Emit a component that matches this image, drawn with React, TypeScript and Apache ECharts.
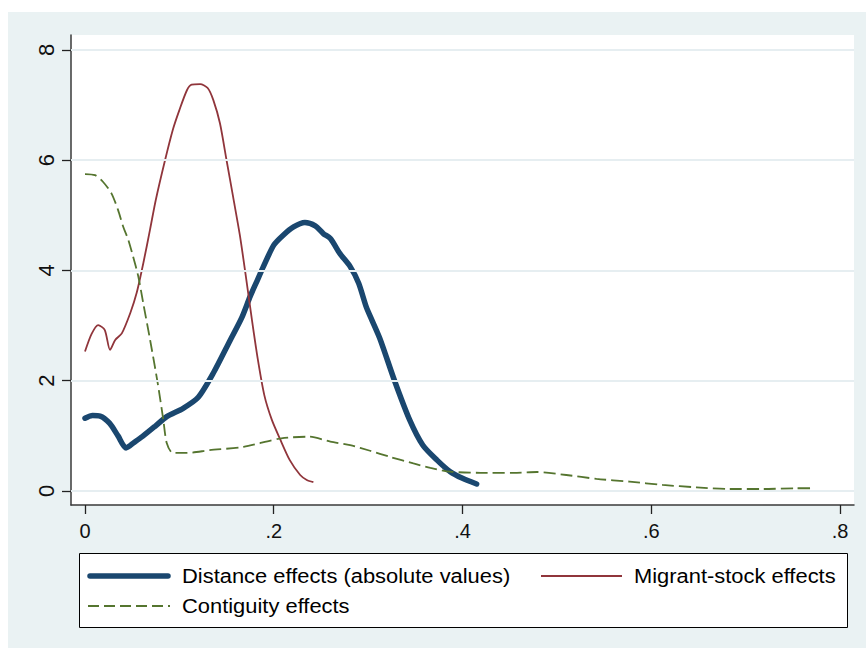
import React, { useEffect, useRef } from "react";
import * as echarts from "echarts";

// ---- data ----
const distanceX = [0, 0.008, 0.016, 0.026, 0.035, 0.0435, 0.052, 0.061, 0.074, 0.0866, 0.104, 0.12, 0.136, 0.154, 0.166, 0.175, 0.182, 0.189, 0.2, 0.21, 0.221, 0.233, 0.244, 0.2525, 0.26, 0.27, 0.281, 0.29, 0.298, 0.304, 0.313, 0.328, 0.344, 0.358, 0.373, 0.387, 0.4, 0.415];
const distanceY = [1.32, 1.37, 1.36, 1.23, 1.0, 0.78, 0.88, 0.99, 1.17, 1.35, 1.5, 1.7, 2.14, 2.74, 3.14, 3.53, 3.8, 4.07, 4.46, 4.64, 4.79, 4.87, 4.81, 4.67, 4.58, 4.31, 4.07, 3.77, 3.34, 3.1, 2.74, 2.0, 1.29, 0.83, 0.56, 0.35, 0.23, 0.127];

const migrantX = [0, 0.007, 0.014, 0.021, 0.0265, 0.032, 0.039, 0.048, 0.0547, 0.062, 0.069, 0.075, 0.0848, 0.093, 0.1, 0.108, 0.113, 0.122, 0.13, 0.136, 0.143, 0.15, 0.157, 0.164, 0.17, 0.1766, 0.183, 0.19, 0.198, 0.207, 0.217, 0.228, 0.235, 0.242];
const migrantY = [2.53, 2.85, 3.01, 2.92, 2.56, 2.74, 2.86, 3.23, 3.59, 4.15, 4.75, 5.28, 6.0, 6.55, 6.91, 7.27, 7.37, 7.38, 7.31, 7.09, 6.67, 6.0, 5.33, 4.65, 3.95, 3.14, 2.4, 1.74, 1.29, 0.93, 0.56, 0.29, 0.2, 0.16];

const contigX = [0, 0.0106, 0.019, 0.028, 0.035, 0.0406, 0.046, 0.051, 0.0565, 0.062, 0.069, 0.077, 0.083, 0.0866, 0.093, 0.108, 0.132, 0.168, 0.208, 0.238, 0.26, 0.281, 0.302, 0.323, 0.348, 0.366, 0.387, 0.419, 0.454, 0.479, 0.51, 0.542, 0.577, 0.612, 0.648, 0.683, 0.719, 0.754, 0.772];
const contigY = [5.75, 5.73, 5.61, 5.4, 5.1, 4.79, 4.55, 4.25, 3.89, 3.38, 2.74, 1.96, 1.29, 0.87, 0.69, 0.69, 0.74, 0.8, 0.955, 0.985, 0.895, 0.83, 0.73, 0.62, 0.5, 0.42, 0.35, 0.33, 0.33, 0.345, 0.29, 0.22, 0.17, 0.11, 0.066, 0.036, 0.036, 0.05, 0.05];

const xTicks = [0, 0.2, 0.4, 0.6, 0.8];
const yTicks = [0, 2, 4, 6, 8];

const seriesNames = ["Distance effects (absolute values)", "Migrant-stock effects", "Contiguity effects"];

// ---- styles ----
const FONT = "'Liberation Sans', Arial, Helvetica, sans-serif";
const NAVY = "#1A476F";
const MAROON = "#90353B";
const GREEN = "#55752F";
const BG = "#EAF2F3";
const GRIDLINE = "#E6EEF1";

const zip = (xs: number[], ys: number[]) => xs.map((x, i) => [x, ys[i]]);
const fmtX = (v: number) => (v === 0 ? "0" : String(v).replace(/^0/, ""));

const legendText = (text: string, x: number, y: number) => ({
  type: "text",
  x,
  y,
  scaleX: 1.095,
  style: { text, fontSize: 20, fontFamily: FONT, fill: "#000", align: "left", verticalAlign: "middle" },
  silent: true,
});

export default function App() {
  const ref = useRef<HTMLDivElement>(null);
  useEffect(() => {
    if (!ref.current) return;
    const chart = echarts.init(ref.current, null, { renderer: "svg" });
    const option: any = {
      animation: false,
      backgroundColor: BG,
      textStyle: { fontFamily: FONT },
      grid: {
        left: 71,
        top: 35,
        width: 783,
        height: 470,
        show: true,
        backgroundColor: "#ffffff",
        borderWidth: 0,
        containLabel: false,
        outerBoundsMode: "none",
      },
      xAxis: {
        type: "value",
        min: -0.01483,
        max: 0.81483,
        axisLine: { show: true, onZero: false, lineStyle: { color: "#3a3a3a", width: 1.5 } },
        axisTick: { show: true, customValues: xTicks, length: 9, lineStyle: { color: "#222", width: 1.3 } },
        axisLabel: { customValues: xTicks, formatter: fmtX, fontSize: 20, color: "#111", margin: 16, fontFamily: FONT },
        splitLine: { show: false },
      },
      yAxis: {
        type: "value",
        min: -0.254,
        max: 8.272,
        axisLine: { show: true, onZero: false, lineStyle: { color: "#3a3a3a", width: 1.5 } },
        axisTick: { show: true, customValues: yTicks, length: 9, lineStyle: { color: "#222", width: 1.3 } },
        axisLabel: { customValues: yTicks, rotate: 90, fontSize: 22, color: "#111", margin: 14, fontFamily: FONT },
        splitLine: { show: false },
      },
      series: [
        {
          name: "gridlines",
          type: "line",
          data: [[0, 0]],
          showSymbol: false,
          symbol: "none",
          lineStyle: { opacity: 0 },
          silent: true,
          z: 1,
          markLine: {
            silent: true,
            symbol: "none",
            label: { show: false },
            lineStyle: { color: GRIDLINE, width: 2, type: "solid" },
            data: yTicks.map((v) => ({ yAxis: v })),
          },
        },
        {
          name: seriesNames[0],
          type: "line",
          data: zip(distanceX, distanceY),
          showSymbol: false,
          symbol: "none",
          smooth: 0.25,
          z: 3,
          lineStyle: { color: NAVY, width: 5.5, cap: "round", join: "round" },
        },
        {
          name: seriesNames[1],
          type: "line",
          data: zip(migrantX, migrantY),
          showSymbol: false,
          symbol: "none",
          smooth: 0.25,
          z: 3,
          lineStyle: { color: MAROON, width: 1.8, join: "round" },
        },
        {
          name: seriesNames[2],
          type: "line",
          data: zip(contigX, contigY),
          showSymbol: false,
          symbol: "none",
          smooth: 0.25,
          z: 3,
          lineStyle: { color: GREEN, width: 1.8, type: [12, 5] },
        },
      ],
      graphic: [
        { type: "rect", shape: { x: 0, y: 0, width: 866, height: 12 }, style: { fill: "#ffffff" }, silent: true },
        { type: "rect", shape: { x: 0, y: 0, width: 8, height: 648 }, style: { fill: "#ffffff" }, silent: true },
        {
          type: "rect",
          shape: { x: 79.5, y: 553.5, width: 768, height: 74 },
          style: { fill: "#ffffff", stroke: "#000000", lineWidth: 1 },
          silent: true,
        },
        {
          type: "line",
          shape: { x1: 90, y1: 576, x2: 168, y2: 576 },
          style: { stroke: NAVY, lineWidth: 5.5, lineCap: "round" },
          silent: true,
        },
        legendText(seriesNames[0], 182, 576),
        {
          type: "line",
          shape: { x1: 541, y1: 576, x2: 622, y2: 576 },
          style: { stroke: MAROON, lineWidth: 1.8 },
          silent: true,
        },
        legendText(seriesNames[1], 634, 576),
        {
          type: "line",
          shape: { x1: 88, y1: 606, x2: 170, y2: 606 },
          style: { stroke: GREEN, lineWidth: 1.8, lineDash: [11, 5] },
          silent: true,
        },
        legendText(seriesNames[2], 182, 606),
      ],
    };
    chart.setOption(option);
    return () => chart.dispose();
  }, []);
  return <div ref={ref} style={{ position: "fixed", left: 0, top: 0, width: 866, height: 648 }} />;
}
